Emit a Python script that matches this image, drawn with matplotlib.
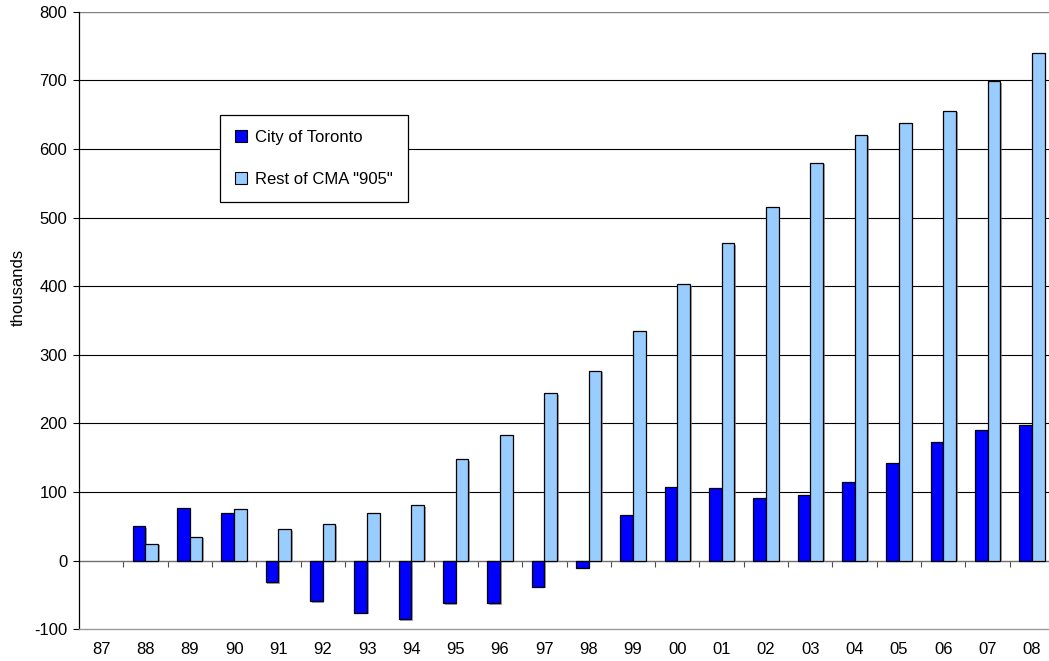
import numpy as np
import matplotlib
matplotlib.use('agg')
import matplotlib.pyplot as plt
import matplotlib.patches as patches
import matplotlib.patheffects as pe

plt.rcParams['font.family'] = ['Liberation Sans', 'DejaVu Sans']
plt.rcParams['axes.unicode_minus'] = False

years = ['87', '88', '89', '90', '91', '92', '93', '94', '95', '96', '97',
         '98', '99', '00', '01', '02', '03', '04', '05', '06', '07', '08']
# cumulative change since 1987, thousands (no value for the base year)
toronto = [np.nan, 50, 77, 70, -31, -59, -76, -85, -62, -62, -38,
           -10, 67, 108, 106, 91, 95, 114, 142, 173, 190, 198]
rest_905 = [np.nan, 25, 35, 75, 46, 53, 70, 81, 148, 183, 244,
            277, 335, 403, 463, 515, 580, 621, 638, 656, 699, 740]
labels = ['City of Toronto', 'Rest of CMA "905"']
colors = ['#0000FF', '#99CCFF']

fs = 12

fig = plt.figure(figsize=(10.49, 6.61), dpi=100)
ax = fig.add_axes([79/1049, 31.7/661, 975/1049, 617.6/661])

n = len(years)
x = np.arange(n)
w = 1/3.5   # excel gap width 150%
shadow = [pe.SimplePatchShadow(offset=(1.2, -1.2), shadow_rgbFace='#808080', alpha=0.7), pe.Normal()]
b1 = ax.bar(x - w/2, toronto, w, color=colors[0], edgecolor='black', linewidth=0.9, zorder=3)
b2 = ax.bar(x + w/2, rest_905, w, color=colors[1], edgecolor='black', linewidth=0.9, zorder=3)
for b in list(b1) + list(b2):
    b.set_path_effects(shadow)

ax.set_xlim(-0.5, n - 0.5)
ax.set_ylim(-100, 800)
ax.set_yticks(np.arange(-100, 801, 100))
ax.set_xticks(x)
ax.set_xticklabels(years)
ax.tick_params(axis='x', length=0, pad=9, labelsize=fs)
ax.tick_params(axis='y', length=4.5, width=0.8, labelsize=fs, pad=4)

# gridlines
for v in range(100, 800, 100):
    ax.axhline(v, color='black', lw=0.8, zorder=1)
ax.axhline(800, color='#808080', lw=1.0, zorder=1)

for s in ['top', 'right']:
    ax.spines[s].set_visible(False)
ax.spines['left'].set_color('black')
ax.spines['left'].set_linewidth(0.9)
ax.spines['bottom'].set_color('#999999')
ax.spines['bottom'].set_linewidth(1.0)

# category axis crossing at zero with ticks between the groups
ax.axhline(0, color='#707070', lw=1.0, zorder=2)
sec = ax.secondary_xaxis(1/9)
sec.set_alignment('bottom')
sec.set_xticks(np.arange(0.5, n - 0.5, 1.0))
sec.tick_params(axis='x', direction='out', length=4.5, width=0.8, color='#505050', labelbottom=False, labeltop=False)
sec.spines['bottom'].set_visible(False)
sec.spines['top'].set_visible(False)

fig.text(18/1049, 1 - 287/661, 'thousands', rotation=90, ha='center', va='center', fontsize=fs)

handles = [patches.Patch(facecolor=c, edgecolor='black', linewidth=0.8) for c in colors]
leg = ax.legend(handles, labels, loc='upper left', bbox_to_anchor=(0.1446, 0.8327),
                borderaxespad=0, fontsize=fs, frameon=True, fancybox=False,
                framealpha=1, edgecolor='black', borderpad=0.9,
                handlelength=0.7, handleheight=0.7, handletextpad=0.5, labelspacing=1.6)
leg.get_frame().set_linewidth(0.9)
leg.set_zorder(5)

fig.savefig('out.png', dpi=100)
